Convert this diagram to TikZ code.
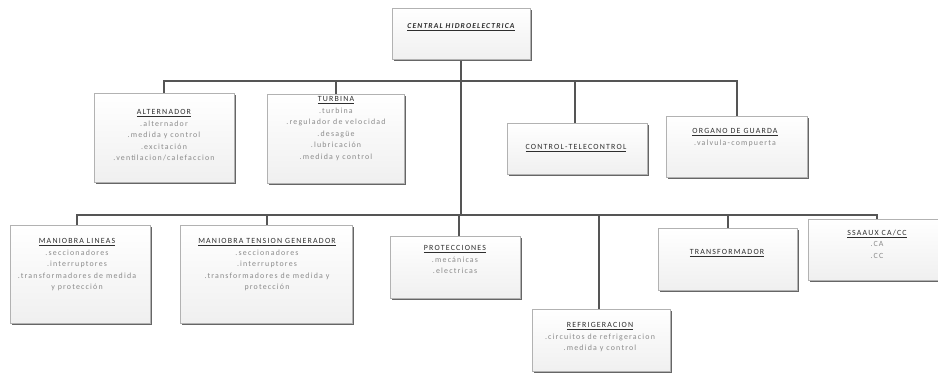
\documentclass[tikz,border=0pt]{standalone}
\usepackage{fontspec}
\setmainfont{Carlito}
\newfontfamily\cf[LetterSpace=15]{Carlito}
\usetikzlibrary{shadows}
\definecolor{ttlc}{HTML}{2E2E2E}
\definecolor{itmc}{HTML}{8A8A8A}
\definecolor{lnkc}{HTML}{555555}
\newcommand{\hd}[1]{{\color{ttlc}\underline{#1}}}
\begin{document}
\begin{tikzpicture}[x=1pt,y=-1pt,
  box/.style={draw=gray!60, top color=white, bottom color=gray!12, line width=0.6pt, inner sep=0pt,
    drop shadow={shadow xshift=1.6pt, shadow yshift=-1.6pt, fill=black!60, opacity=1}},
  txt/.style={align=center, inner sep=0pt, anchor=north, font=\cf\fontsize{7.9}{11.5}\selectfont, text=itmc},
  link/.style={draw=lnkc, line width=1.6pt}]
\useasboundingbox (0,0) rectangle (938,373);

\coordinate (tb) at (461,81);
\coordinate (bb) at (461,215);

% links
\draw[link] (461,59) -- (bb);
\draw[link] (164,93) |- (tb) -| (737,116);
\draw[link] (336,94) -- (336,81);
\draw[link] (575,123) -- (575,81);
\draw[link] (77,225) |- (bb) -| (877,219);
\draw[link] (267,225) -- (267,215);
\draw[link] (459,236) -- (459,215);
\draw[link] (599,309) -- (599,215);
\draw[link] (728,228) -- (728,215);

% boxes
\node[box, minimum width=138pt, minimum height=51pt] (cen) at (461,33.5) {};
\node[box, minimum width=140pt, minimum height=89pt] (alt) at (164,137.5) {};
\node[box, minimum width=137pt, minimum height=89pt] (tur) at (335.5,138.5) {};
\node[box, minimum width=140pt, minimum height=51pt] (ctl) at (577,148.5) {};
\node[box, minimum width=141pt, minimum height=61pt] (org) at (736.5,146.5) {};
\node[box, minimum width=140pt, minimum height=98pt] (mli) at (80,274) {};
\node[box, minimum width=172pt, minimum height=98pt] (mtg) at (266,274) {};
\node[box, minimum width=130pt, minimum height=62pt] (pro) at (455,267) {};
\node[box, minimum width=138pt, minimum height=62pt] (ref) at (601,340.5) {};
\node[box, minimum width=139pt, minimum height=62pt] (tra) at (727.5,259) {};
\node[box, minimum width=137pt, minimum height=61pt] (ssa) at (876.5,249.5) {};

% texts
\node[txt, anchor=center, font=\cf\itshape\bfseries\fontsize{7.6}{9}\selectfont] (cent) at (461,27) {\hd{CENTRAL HIDROELECTRICA}};
\node[txt] (altt) at (164,109.5) {\hd{ALTERNADOR}\\.alternador\\.medida y control\\.excitación\\.ventilacion/calefaccion};
\node[txt] (turt) at (336,96.5) {\hd{TURBINA}\\.turbina\\.regulador de velocidad\\.desagüe\\.lubricación\\.medida y control};
\node[txt, anchor=center] (ctlt) at (576,148) {\hd{CONTROL-TELECONTROL}};
\node[txt] (orgt) at (735,128.5) {\hd{ORGANO DE GUARDA}\\.valvula-compuerta};
\node[txt] (mlit) at (77,238.5) {\hd{MANIOBRA LINEAS}\\.seccionadores\\.interruptores\\.transformadores de medida\\y protección};
\node[txt] (mtgt) at (267,238.5) {\hd{MANIOBRA TENSION GENERADOR}\\.seccionadores\\.interruptores\\.transformadores de medida y\\protección};
\node[txt] (prot) at (455,245.5) {\hd{PROTECCIONES}\\.mecánicas\\.electricas};
\node[txt] (reft) at (600,322.5) {\hd{REFRIGERACION}\\.circuitos de refrigeracion\\.medida y control};
\node[txt, anchor=center] (trat) at (727,253) {\hd{TRANSFORMADOR}};
\node[txt] (ssat) at (877,229.5) {\hd{SSAAUX CA/CC}\\.CA\\.CC};
\end{tikzpicture}
\end{document}
